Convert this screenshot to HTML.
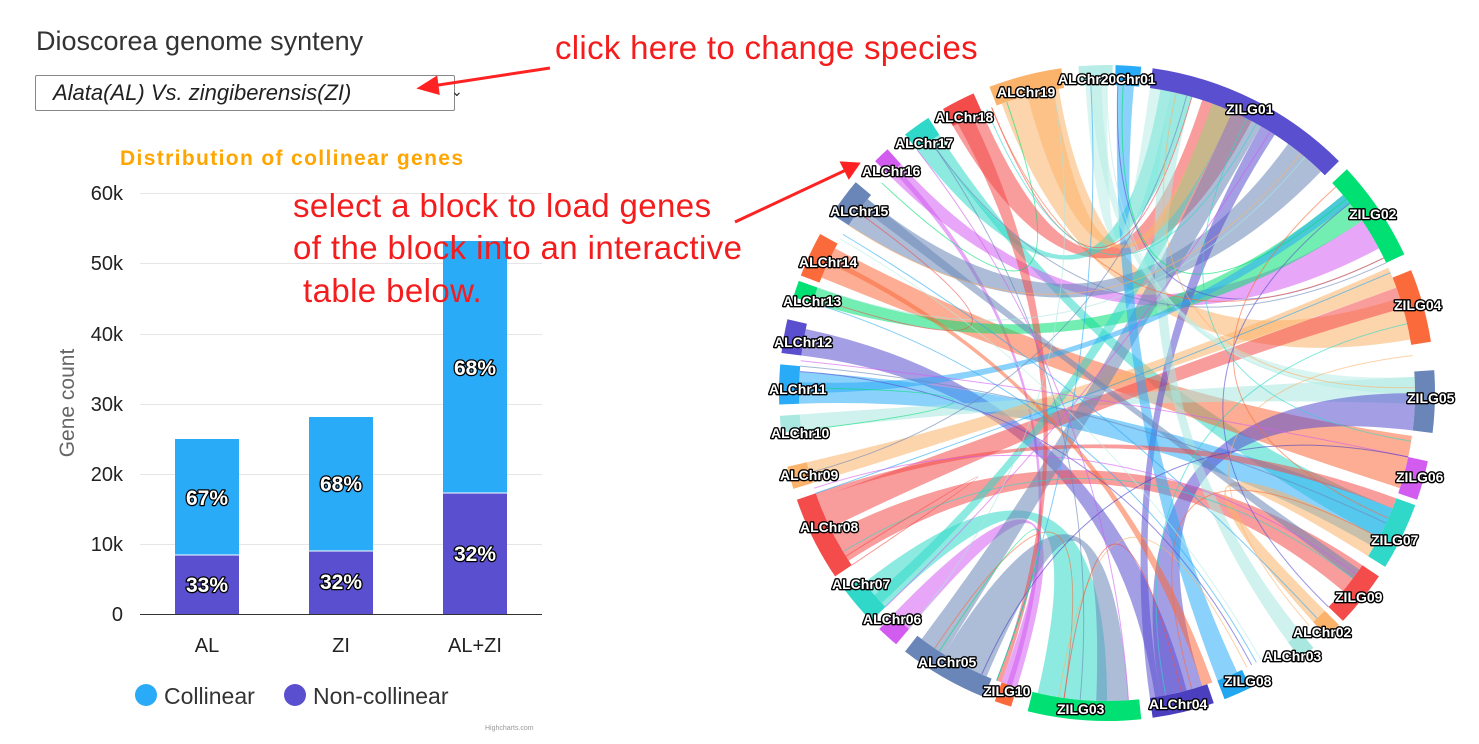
<!DOCTYPE html>
<html><head><meta charset="utf-8"><style>
body{margin:0;width:1479px;height:744px;background:#fff;overflow:hidden;font-family:"Liberation Sans",Arial,sans-serif;position:relative}
.a{position:absolute;white-space:nowrap}
.ann{color:#f41c1c;font-size:33px;position:absolute;white-space:nowrap}
</style></head><body>
<div class="a" style="left:36px;top:26px;font-size:27px;color:#333">Dioscorea genome synteny</div>
<div class="a" style="left:35px;top:75px;width:418px;height:34px;border:1px solid #888;border-radius:2px;font-style:italic;font-size:22px;color:#222;line-height:34px;text-indent:17px">Alata(AL) Vs. zingiberensis(ZI)<span style="position:absolute;left:398px;top:-2px;font-style:normal;font-size:14px">&#8964;</span></div>
<svg width="1479" height="744" style="position:absolute;left:0;top:0" id="s">
<g font-family="Liberation Sans,Arial,sans-serif">
<text x="120" y="165" font-size="21" font-weight="bold" fill="#ffa500" textLength="343">Distribution of collinear genes</text>
<g stroke="#e6e6e6" stroke-width="1">
<line x1="140" x2="542" y1="193.5" y2="193.5"/><line x1="140" x2="542" y1="263.5" y2="263.5"/><line x1="140" x2="542" y1="334.5" y2="334.5"/><line x1="140" x2="542" y1="404.5" y2="404.5"/><line x1="140" x2="542" y1="474.5" y2="474.5"/><line x1="140" x2="542" y1="544.5" y2="544.5"/></g>
<line x1="140" x2="542" y1="614.5" y2="614.5" stroke="#333"/>
<g font-size="20" fill="#222" text-anchor="end">
<text x="123" y="200">60k</text><text x="123" y="270">50k</text><text x="123" y="341">40k</text><text x="123" y="411">30k</text><text x="123" y="481">20k</text><text x="123" y="551">10k</text><text x="123" y="621">0</text></g>
<text transform="translate(74,403) rotate(-90)" font-size="21" fill="#666" text-anchor="middle">Gene count</text>
<rect x="175" y="439" width="64" height="116" fill="#29abf7"/><rect x="175" y="555" width="64" height="59" fill="#5a4fcf"/>
<rect x="309" y="417" width="64" height="134" fill="#29abf7"/><rect x="309" y="551" width="64" height="63" fill="#5a4fcf"/>
<rect x="443" y="241" width="64" height="252" fill="#29abf7"/><rect x="443" y="493" width="64" height="121" fill="#5a4fcf"/>
<line x1="175" x2="239" y1="555" y2="555" stroke="#fff"/><line x1="309" x2="373" y1="551" y2="551" stroke="#fff"/><line x1="443" x2="507" y1="493" y2="493" stroke="#fff"/>
<g font-size="21" font-weight="bold" fill="#fff" stroke="#000" stroke-width="2.5" paint-order="stroke" text-anchor="middle" stroke-linejoin="round">
<text x="207" y="505">67%</text><text x="207" y="592">33%</text><text x="341" y="491">68%</text><text x="341" y="589">32%</text><text x="475" y="375">68%</text><text x="475" y="561">32%</text></g>
<g font-size="20" fill="#222" text-anchor="middle"><text x="207" y="652">AL</text><text x="341" y="652">ZI</text><text x="475" y="652">AL+ZI</text></g>
<circle cx="146" cy="695" r="11" fill="#29abf7"/><text x="164" y="704" font-size="23" fill="#333">Collinear</text>
<circle cx="295" cy="695" r="11" fill="#5a4fcf"/><text x="313" y="704" font-size="23" fill="#333">Non-collinear</text>
<text x="485" y="730" font-size="7" fill="#999">Highcharts.com</text>
</g>
<g id="chords"></g><g id="ring"></g>
<g font-family="Liberation Sans,Arial,sans-serif" font-size="14" font-weight="bold" fill="#fff" stroke="#000" stroke-width="2.8" paint-order="stroke" stroke-linejoin="round">
<text x="1058" y="84">ALChr20</text><text x="1116" y="84">Chr01</text><text x="1226" y="114">ZILG01</text><text x="1349" y="219">ZILG02</text><text x="1394" y="310">ZILG04</text><text x="1407" y="403">ZILG05</text><text x="1396" y="482">ZILG06</text><text x="1371" y="545">ZILG07</text><text x="1335" y="602">ZILG09</text><text x="1293" y="637">ALChr02</text><text x="1263" y="661">ALChr03</text><text x="1224" y="686">ZILG08</text><text x="1149" y="709">ALChr04</text><text x="1057" y="714">ZILG03</text><text x="983" y="696">ZILG10</text><text x="918" y="667">ALChr05</text><text x="863" y="624">ALChr06</text><text x="832" y="589">ALChr07</text><text x="800" y="532">ALChr08</text><text x="780" y="480">ALChr09</text><text x="771" y="438">ALChr10</text><text x="769" y="394">ALChr11</text><text x="774" y="347">ALChr12</text><text x="783" y="306">ALChr13</text><text x="799" y="267">ALChr14</text><text x="830" y="216">ALChr15</text><text x="862" y="176">ALChr16</text><text x="895" y="148">ALChr17</text><text x="935" y="122">ALChr18</text><text x="997" y="97">ALChr19</text></g>
<g stroke="#f22" stroke-width="3" fill="#f22">
<line x1="550" y1="68" x2="432" y2="86"/><polygon points="420,88 436,78 438,93"/>
<line x1="735" y1="222" x2="846" y2="170"/><polygon points="858,164 842,163 849,177"/></g>
</svg>
<div class="ann" style="left:555px;top:29px;letter-spacing:0.3px">click here to change species</div>
<div class="ann" style="left:293px;top:187px;letter-spacing:0.4px">select a block to load genes</div>
<div class="ann" style="left:293px;top:229px;letter-spacing:0.4px">of the block into an interactive</div>
<div class="ann" style="left:303px;top:272px;letter-spacing:0.4px">table below.</div>
<script>
var cx=1107,cy=393,R1=308,R2=328;
function P(a,r){a=a*Math.PI/180;return [cx+r*Math.sin(a),cy-r*Math.cos(a)];}
var segs=[[-5,1,'#b8ece6'],[1.5,6,'#29abf7'],[8,45,'#5a4fcf'],[47,65,'#00e073'],[68,81,'#fa6a3a'],[86,97,'#6a86b8'],[102,109,'#d35cf0'],[110,122,'#2fd8c8'],[124,134,'#f44b4b'],[135,138,'#fbb26a'],[141,144,'#a8e8e0'],[154,159,'#22a7f0'],[161,172,'#4b3fbf'],[174,194,'#00e073'],[197,200,'#fa6a3a'],[202,218,'#6a86b8'],[220,224,'#d35cf0'],[226,233,'#2fd8c8'],[236,251,'#f44b4b'],[253,257,'#fbb26a'],[263,266,'#a8e8e0'],[268,275,'#29abf7'],[277,283,'#5a4fcf'],[287,290,'#00e073'],[291,299,'#fa6a3a'],[303,310,'#6a86b8'],[315,318,'#d35cf0'],[322,327,'#2fd8c8'],[330,336,'#f44b4b'],[339,352,'#fbb26a']];
var h='';segs.forEach(function(s){var a=P(s[0],R1),b=P(s[1],R1),c=P(s[1],R2),d=P(s[0],R2);var l=(s[1]-s[0])>180?1:0;
h+='<path d="M'+a+'A'+R1+','+R1+' 0 '+l+' 1 '+b+'L'+c+'A'+R2+','+R2+' 0 '+l+' 0 '+d+'Z" fill="'+s[2]+'"/>';});
document.getElementById('ring').innerHTML=h;
var ch=[[340,351,72,80,'#fbb26a'],[330,336,18,28,'#f44b4b'],[322,325,10,16,'#2fd8c8'],[325,327,112,118,'#2fd8c8'],[315,318,56,62,'#d35cf0'],[316,317,198,199,'#d35cf0'],[303,309,36,44,'#6a86b8'],[292,298,98,108,'#fa6a3a'],[287,290,50,56,'#00e073'],[277,282,165,171,'#5a4fcf'],[268,274,112,120,'#29abf7'],[263,266,87,92,'#a8e8e0'],[253,257,66,70,'#fbb26a'],[237,243,124,130,'#f44b4b'],[244,250,70,74,'#f44b4b'],[226,232,180,193,'#2fd8c8'],[227,229,20,24,'#2fd8c8'],[220,224,197,200,'#d35cf0'],[203,212,176,182,'#6a86b8'],[212,217,24,30,'#6a86b8'],[162,170,90,97,'#5a4fcf'],[170,172,30,33,'#5a4fcf'],[141,144,12,16,'#a8e8e0'],[135,138,118,122,'#fbb26a'],[2,5,155,159,'#29abf7'],[-4,0,8,12,'#b8ece6'],[-3,-1,87,90,'#b8ece6'],[345,350,20,24,'#fbb26a'],[331,334,200,201,'#f44b4b'],[307,309,125,127,'#6a86b8'],[270,272,50,52,'#29abf7'],[295,296,160,162,'#fa6a3a'],[250,251,110,112,'#f44b4b']];
var g='';ch.forEach(function(c){var a1=P(c[0],R1),a2=P(c[1],R1),b1=P(c[2],R1),b2=P(c[3],R1),o=[cx,cy];
g+='<path d="M'+a1+'A'+R1+','+R1+' 0 0 1 '+a2+'Q'+o+' '+b1+'A'+R1+','+R1+' 0 0 1 '+b2+'Q'+o+' '+a1+'Z" fill="'+c[4]+'" fill-opacity="0.55"/>';});
for(var i=0;i<40;i++){var a=(i*137)%360,b=(i*211+90)%360;var p=P(a,R1),q=P(b,R1);g+='<path d="M'+p+'Q'+cx+','+cy+' '+q+'" fill="none" stroke="'+segs[i%segs.length][2]+'" stroke-opacity="0.6" stroke-width="1"/>';}
document.getElementById('chords').innerHTML=g;
</script>
</body></html>
